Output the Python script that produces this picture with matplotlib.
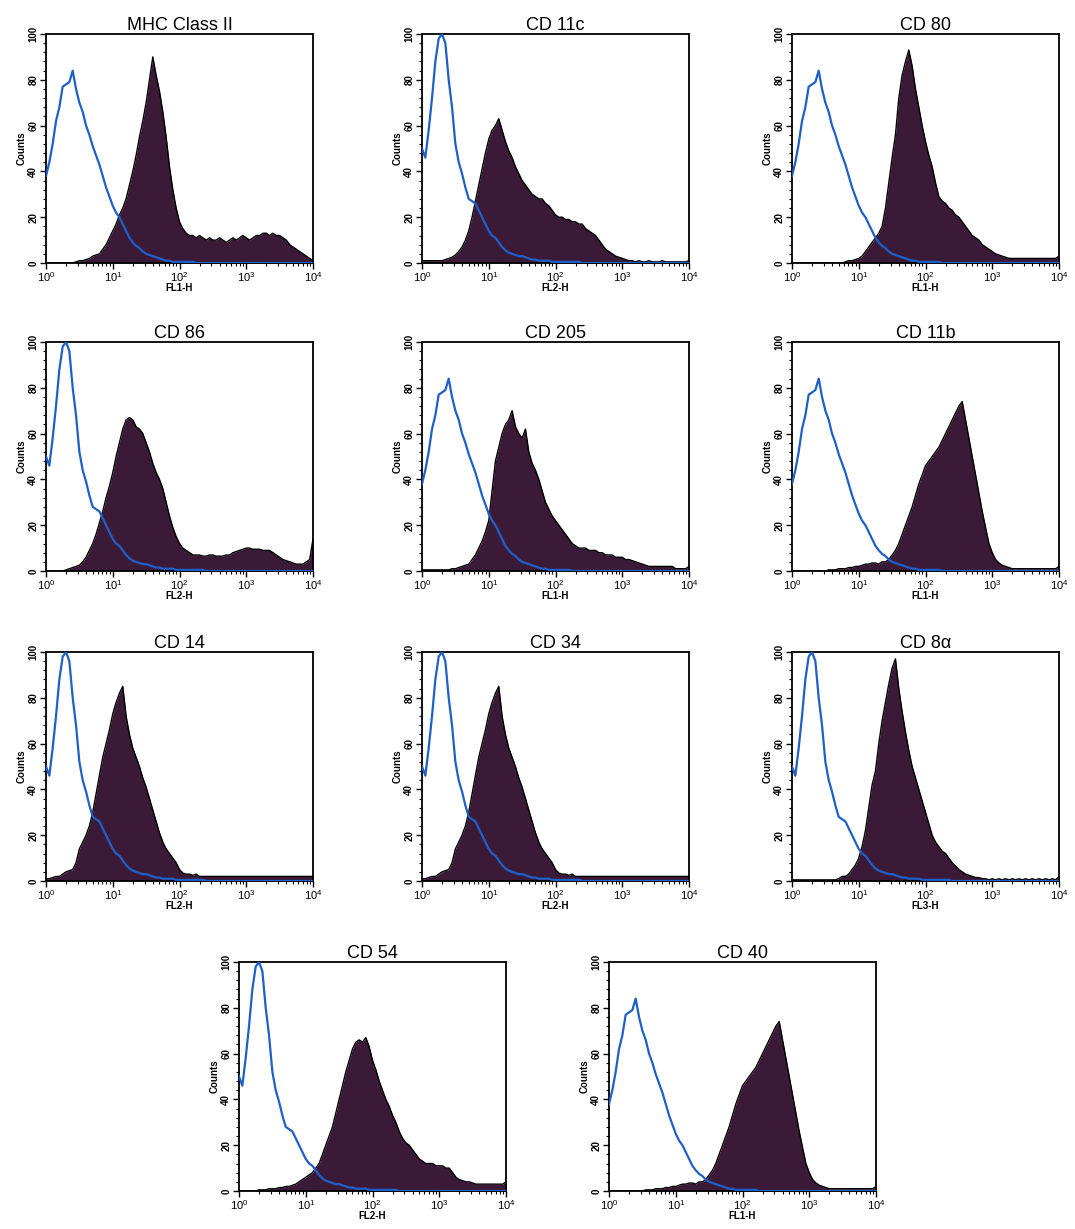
import numpy as np
import matplotlib
matplotlib.use("Agg")
import matplotlib.pyplot as plt
from matplotlib.ticker import LogLocator, MultipleLocator, FixedLocator

plt.rcParams["font.family"] = ["Liberation Sans", "DejaVu Sans"]
plt.rcParams["mathtext.fontset"] = "custom"
plt.rcParams["mathtext.rm"] = "Liberation Sans"
plt.rcParams["mathtext.it"] = "Liberation Sans"

# channel positions: log10 of fluorescence, every 0.05 decade from 10^0 to 10^4
log_x = np.round(np.arange(0, 4.001, 0.05), 2)

# isotype controls (blue outline)
control_a = [38, 44, 52, 62, 68, 77, 78, 79, 84, 76,
             70, 66, 60, 56, 51, 47, 43, 38, 33, 29,
             25, 22, 20, 17, 14, 11, 9, 7.5, 6.5, 5,
             4, 3.5, 3, 2.5, 2, 1.5, 1, 1, 0.5, 0.5,
             0.5, 0.5, 0.5, 0.5, 0.5, 0, 0, 0, 0, 0,
             0, 0, 0, 0, 0, 0, 0, 0, 0, 0,
             0, 0, 0, 0, 0, 0, 0, 0, 0, 0,
             0, 0, 0, 0, 0, 0, 0, 0, 0, 0, 0]
control_b = [50, 46, 58, 72, 88, 98, 100, 96, 80, 68,
             52, 44, 39, 33, 28, 27, 26, 23, 20, 17,
             14, 12, 11, 9, 7, 5.5, 4.5, 4, 3.5, 3,
             3, 2.5, 2, 1.5, 1.5, 1, 1, 1, 1, 0.5,
             0.5, 0.5, 0.5, 0.5, 0.5, 0.5, 0.5, 0.5, 0, 0,
             0, 0, 0, 0, 0, 0, 0, 0, 0, 0,
             0, 0, 0, 0, 0, 0, 0, 0, 0, 0,
             0, 0, 0, 0, 0, 0, 0, 0, 0, 0, 0]

# stained samples (filled)
mhc2_counts = [0, 0, 0, 0, 0, 0, 0, 0, 0, 0.5,
               1, 1, 1.5, 2, 3, 3.5, 4, 6, 8, 11,
               14, 17, 21, 24, 28, 34, 40, 47, 55, 62,
               70, 80, 90, 82, 75, 66, 55, 42, 32, 24,
               18, 15, 13, 12, 12, 11, 12, 11, 10, 11,
               10, 10, 11, 10, 9, 10, 11, 10, 11, 12,
               11, 10, 11, 12, 12, 13, 13, 12, 13, 12,
               12, 11, 10, 8, 7, 6, 5, 4, 3, 2, 1]
cd11c_counts = [1, 1, 1, 1, 1, 1, 1, 1.5, 2, 2.5,
                3.5, 5, 7, 10, 14, 20, 27, 34, 41, 48,
                54, 58, 60, 63, 58, 53, 49, 46, 42, 39,
                36, 34, 32, 30, 29, 28, 28, 26, 25, 23,
                21, 20, 20, 19, 19, 18, 18, 17, 17, 15,
                14, 13, 12, 10, 8, 6, 5, 4, 3, 2.5,
                2, 1.5, 1, 1, 0.5, 1, 0.5, 0.5, 1, 0.5,
                0.5, 0.5, 1, 0.5, 0.5, 0.5, 0.5, 0.5, 0.5, 0.5, 1]
cd80_counts = [0, 0, 0, 0, 0, 0, 0, 0, 0, 0,
               0, 0, 0, 0, 0, 0, 0.5, 1, 1, 1.5,
               2, 3, 5, 7, 9, 11, 13, 16, 24, 35,
               46, 56, 72, 82, 88, 93, 86, 76, 68, 60,
               53, 47, 42, 35, 29, 27, 26, 24, 23, 21,
               20, 18, 16, 14, 12, 11, 10, 8, 7, 6,
               5, 4, 3.5, 3, 2.5, 2, 2, 2, 2, 2,
               2, 2, 2, 2, 2, 2, 2, 2, 2, 2, 3]
cd86_counts = [0, 0, 0, 0, 0, 0, 0.5, 1, 1.5, 2,
               2.5, 4, 6, 9, 12, 16, 21, 26, 32, 37,
               43, 50, 56, 62, 66, 67, 66, 63, 62, 60,
               56, 52, 47, 43, 40, 36, 30, 24, 19, 15,
               12, 10, 9, 8, 7, 7, 7, 6.5, 6.5, 7,
               7, 6.5, 6.5, 6.5, 7, 7, 8, 8.5, 9, 9.5,
               10, 10, 9.5, 9.5, 9.5, 9, 9, 9, 8, 7,
               6, 5, 4.5, 4, 3.5, 3, 3, 3, 4, 5, 14]
cd205_counts = [0.5, 0.5, 0.5, 0.5, 0.5, 0.5, 0.5, 0.5, 0.5, 1,
                1, 1.5, 2, 2.5, 3, 5, 7, 10, 13, 17,
                22, 35, 48, 54, 60, 64, 66, 70, 63, 60,
                58, 62, 52, 47, 44, 40, 35, 30, 27, 24,
                22, 20, 18, 16, 14, 12, 11, 10, 10, 10,
                9, 9, 9, 8, 8, 7, 7, 7, 6, 6,
                6, 5, 5, 4.5, 4, 3.5, 3, 2.5, 2, 2,
                2, 2, 2, 2, 2, 2, 1, 1, 1, 1, 2]
cd11b_counts = [0, 0, 0, 0, 0, 0, 0, 0, 0, 0,
                0, 0.5, 0.5, 0.5, 1, 1, 1, 1.5, 1.5, 2,
                2, 2.5, 3, 3, 3.5, 3.5, 3, 4, 4, 5,
                7, 9, 12, 16, 20, 24, 28, 33, 38, 42,
                46, 48, 50, 52, 54, 57, 60, 63, 66, 69,
                72, 74, 66, 58, 50, 42, 34, 26, 19, 12,
                8, 5, 3.5, 2.5, 2, 1.5, 1, 1, 1, 1,
                1, 1, 1, 1, 1, 1, 1, 1, 1, 1, 2]
cd14_counts = [1, 1, 1.5, 2, 2, 3, 4, 4.5, 5, 8,
               14, 17, 20, 24, 30, 38, 46, 54, 60, 66,
               73, 78, 82, 85, 72, 64, 58, 54, 50, 45,
               41, 36, 31, 26, 21, 17, 14, 12, 10, 8,
               5, 3.5, 3, 3, 2.5, 3, 2, 2, 2, 2,
               2, 2, 2, 2, 2, 2, 2, 2, 2, 2,
               2, 2, 2, 2, 2, 2, 2, 2, 2, 2,
               2, 2, 2, 2, 2, 2, 2, 2, 2, 2, 2]
cd34_counts = list(cd14_counts)
cd8a_counts = [0.5, 0.5, 0.5, 0.5, 0.5, 0.5, 0.5, 0.5, 0.5, 0.5,
               0.5, 0.5, 0.5, 0.5, 1, 2, 2, 3, 5, 7,
               10, 15, 22, 32, 42, 48, 60, 70, 78, 86,
               93, 97, 84, 74, 65, 57, 50, 45, 40, 35,
               30, 25, 20, 17, 15, 13, 12, 10, 8, 6.5,
               5, 4, 3, 2.5, 2, 1.5, 1.5, 1, 1, 0.5,
               1, 0.5, 1, 0.5, 1, 0.5, 1, 0.5, 1, 0.5,
               1, 0.5, 1, 0.5, 1, 0.5, 1, 0.5, 1, 0.5, 2]
cd54_counts = [0, 0, 0, 0, 0, 0, 0.5, 0.5, 0.5, 1,
               1, 1, 1.5, 1.5, 2, 2, 2.5, 3, 4, 5,
               6, 7, 8, 10, 12, 16, 20, 24, 28, 34,
               40, 46, 52, 57, 62, 65, 66, 65, 67, 63,
               57, 53, 48, 44, 40, 37, 33, 30, 26, 23,
               21, 20, 18, 16, 14, 13, 12, 12, 12, 11,
               11, 11, 10, 10, 8, 6, 5, 4.5, 4, 4,
               3.5, 3, 3, 3, 3, 3, 3, 3, 3, 3, 4]
cd40_counts = list(cd11b_counts)

titles = ["MHC Class II", "CD 11c", "CD 80", "CD 86", "CD 205", "CD 11b",
          "CD 14", "CD 34", "CD 8\u03b1", "CD 54", "CD 40"]
channels = ["FL1-H", "FL2-H", "FL1-H", "FL2-H", "FL1-H", "FL1-H",
            "FL2-H", "FL2-H", "FL3-H", "FL2-H", "FL1-H"]
samples = [mhc2_counts, cd11c_counts, cd80_counts, cd86_counts, cd205_counts,
           cd11b_counts, cd14_counts, cd34_counts, cd8a_counts, cd54_counts,
           cd40_counts]
controls = [control_a, control_b, control_a, control_b, control_a, control_a,
            control_b, control_b, control_b, control_b, control_a]

W, H = 1075, 1229
fig = plt.figure(figsize=(W / 100, H / 100), dpi=100)
fig.patch.set_facecolor("white")

# panel boxes in pixels: left, top
col_left = [46, 422, 792]
row_top = [34, 342, 652]
boxes = [(l, t) for t in row_top for l in col_left] + [(239, 962), (609, 962)]
pw, ph = 267, 229

fill_color = "#3b1a38"
blue = "#1f5fc8"
x = 10 ** log_x

for i, (l, t) in enumerate(boxes):
    ax = fig.add_axes([l / W, 1 - (t + ph) / H, pw / W, ph / H])
    y = np.array(samples[i], dtype=float)
    ax.fill_between(x, 0, y, color=fill_color, lw=0, zorder=2)
    ax.plot(x, y, color="black", lw=1.0, zorder=3)
    ax.plot(x, controls[i], color=blue, lw=1.6, zorder=4)

    ax.set_xscale("log")
    ax.set_xlim(1, 1e4)
    ax.set_ylim(0, 100)
    ax.xaxis.set_major_locator(FixedLocator([1, 10, 100, 1000, 10000]))
    ax.xaxis.set_minor_locator(LogLocator(base=10, subs=np.arange(2, 10)))
    ax.xaxis.set_minor_formatter(plt.NullFormatter())
    ax.set_xticklabels([r"$10^0$", r"$10^1$", r"$10^2$", r"$10^3$", r"$10^4$"])
    ax.yaxis.set_major_locator(MultipleLocator(20))
    ax.yaxis.set_minor_locator(MultipleLocator(4))
    for lab in ax.get_yticklabels():
        lab.set_rotation(90)
        lab.set_va("center")
        lab.set_fontweight("bold")
    ax.tick_params(axis="both", which="major", direction="out", length=4,
                   width=1.0, labelsize=8, pad=1.5)
    ax.tick_params(axis="both", which="minor", direction="out", length=2.5, width=0.8)
    ax.tick_params(axis="y", labelsize=7)
    for s in ax.spines.values():
        s.set_linewidth(1.3)

    ax.set_title(titles[i], fontsize=13, pad=3)
    ax.set_ylabel("Counts", fontsize=7, fontweight="bold", labelpad=1)
    ax.set_xlabel(channels[i], fontsize=7, fontweight="bold", labelpad=-1)

fig.savefig("out.png", dpi=100)
